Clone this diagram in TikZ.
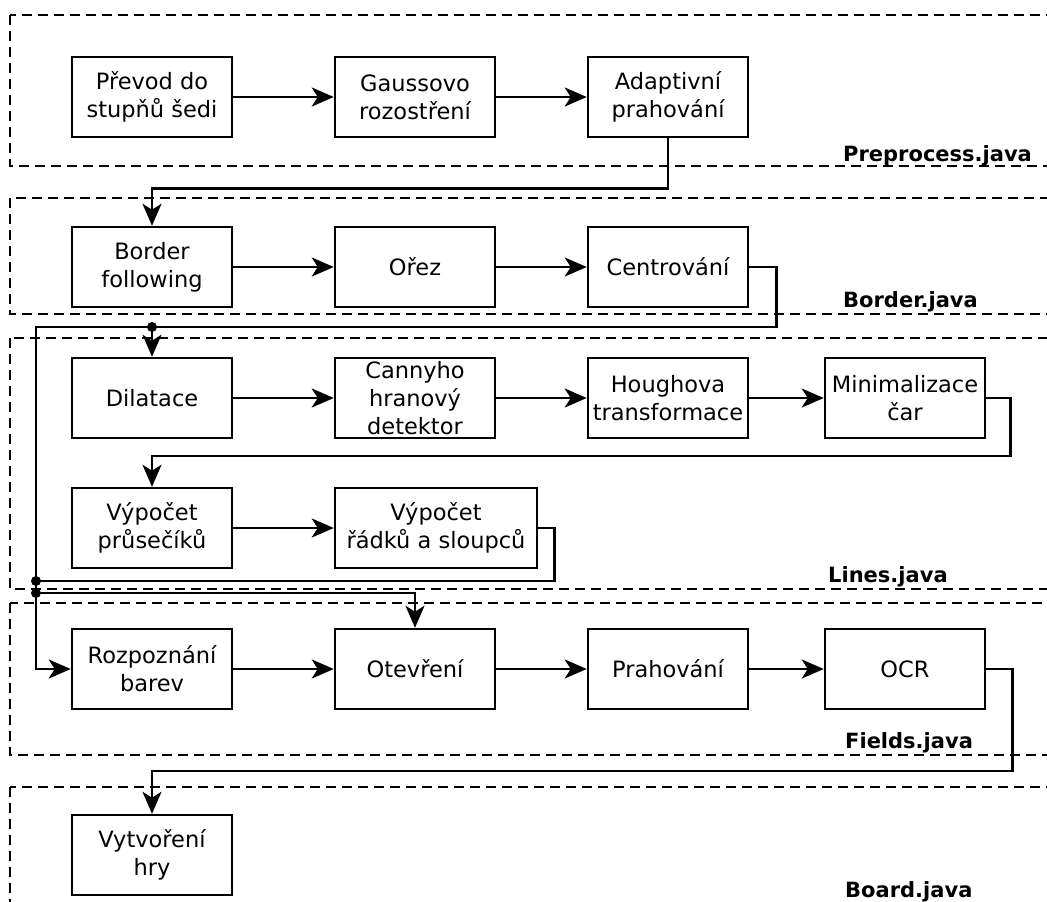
\documentclass[tikz,border=0pt]{standalone}
\usepackage{fontspec}
\setmainfont{DejaVu Sans}
\usepackage{tikz}
\usetikzlibrary{arrows.meta}
\tikzset{
  blok/.style = {draw=black, line width=2.5pt, rectangle, align=center,
    inner sep=0pt, minimum width=160pt, minimum height=80pt,
    font=\fontsize{22.5}{28}\selectfont},% krok zpracovani
  oblast/.style = {draw=black, line width=2.5pt, dash pattern=on 10pt off 6pt},% java trida
  popis/.style = {anchor=base west, inner sep=0pt,
    font=\fontsize{21}{25}\selectfont\bfseries},
  sipka/.style = {draw=black, line width=2.5pt,
    -{Stealth[length=22pt, width=19pt, inset=6pt]}},
  tecka/.style = {fill=black, circle, inner sep=0pt, minimum size=10pt}
}

\begin{document}
\begin{tikzpicture}[x=1pt, y=-1pt]
	\useasboundingbox (0,0) rectangle (1047,902);
	\clip (0,0) rectangle (1047,902);
	\fill[white] (0,0) rectangle (1047,902);
	% oblasti
	\draw[oblast] (10,15) rectangle (1070,166);
	\draw[oblast] (10,198) rectangle (1070,314);
	\draw[oblast] (10,338) rectangle (1070,589);
	\draw[oblast] (10,603) rectangle (1070,755);
	\draw[oblast] (10,787) rectangle (1070,930);
	\node [popis] (pre) at (843,161) {Preprocess.java};
	\node [popis] (bor) at (843,307) {Border.java};
	\node [popis] (lin) at (828,582) {Lines.java};
	\node [popis] (fie) at (845,748) {Fields.java};
	\node [popis] (boa) at (845,897) {Board.java};
	% bloky
	\node [blok] (prevod) at (152,97) {Převod do\\stupňů šedi};
	\node [blok] (gauss) at (415,97) {Gaussovo\\rozostření};
	\node [blok] (adapt) at (668,97) {Adaptivní\\prahování};
	\node [blok] (border) at (152,267) {Border\\following};
	\node [blok] (orez) at (415,267) {Ořez};
	\node [blok] (centr) at (668,267) {Centrování};
	\node [blok] (dilat) at (152,398) {Dilatace};
	\node [blok] (canny) at (415,398) {Cannyho\\hranový\\detektor};
	\node [blok] (hough) at (668,398) {Houghova\\transformace};
	\node [blok] (minim) at (905,398) {Minimalizace\\čar};
	\node [blok] (prus) at (152,528) {Výpočet\\průsečíků};
	\node [blok, minimum width=202pt] (radky) at (436,528) {Výpočet\\řádků a sloupců};
	\node [blok] (rozp) at (152,669) {Rozpoznání\\barev};
	\node [blok] (otevr) at (415,669) {Otevření};
	\node [blok] (prah) at (668,669) {Prahování};
	\node [blok] (ocr) at (905,669) {OCR};
	\node [blok] (hra) at (152,855) {Vytvoření\\hry};
	% spoje
	\coordinate (rozbocka) at (152,327);
	\coordinate (levy) at (36,327);
	\coordinate (ohyb) at (152,456);
	\coordinate (spoj1) at (36,581);
	\coordinate (spoj2) at (36,593);
	\coordinate (ohyb2) at (152,771);
	\draw[sipka] (prevod) -- (gauss);
	\draw[sipka] (gauss) -- (adapt);
	\draw[sipka] (adapt.south) -- ++(0,50) -| (border.north);
	\draw[sipka] (border) -- (orez);
	\draw[sipka] (orez) -- (centr);
	\draw[sipka] (centr.east) -- ++(27,0) |- (levy) |- (rozp.west);
	\draw[sipka] (rozbocka) -- (dilat.north);
	\draw[sipka] (dilat) -- (canny);
	\draw[sipka] (canny) -- (hough);
	\draw[sipka] (hough) -- (minim);
	\draw[sipka] (minim.east) -- ++(24,0) |- (ohyb) -- (prus.north);
	\draw[sipka] (prus) -- (radky);
	\draw[sipka] (radky.east) -- ++(16,0) |- (spoj1) -- (spoj2) -| (otevr.north);
	\draw[sipka] (rozp) -- (otevr);
	\draw[sipka] (otevr) -- (prah);
	\draw[sipka] (prah) -- (ocr);
	\draw[sipka] (ocr.east) -- ++(26,0) |- (ohyb2) -- (hra.north);
	\node [tecka] at (rozbocka) {};
	\node [tecka] at (spoj1) {};
	\node [tecka] at (spoj2) {};
\end{tikzpicture}
\end{document}
